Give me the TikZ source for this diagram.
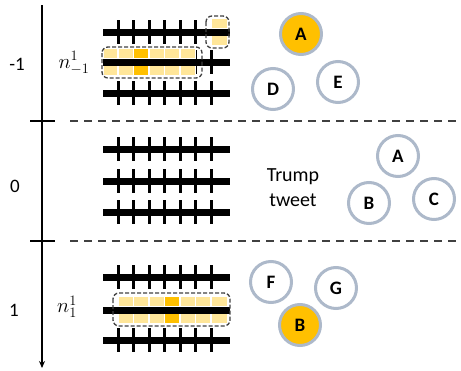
\documentclass[tikz,border=0pt]{standalone}
\usepackage{fontspec}
\setmainfont{Carlito}
\usetikzlibrary{arrows.meta}
\definecolor{cellY}{HTML}{FFE699}
\definecolor{cellO}{HTML}{FFC000}
\definecolor{ringC}{HTML}{ADB9CA}
\definecolor{dashC}{HTML}{404040}
\newcommand{\tlticks}[1]{%
  \foreach \tx in {118,133.5,149,164.5,180,195.5,211}{\draw[tickmark] (\tx,#1-12) -- (\tx,#1+12);}}
\newcommand{\tlbar}[1]{\draw[barline] (103,#1) -- (230,#1);}
\newcommand{\tlcell}[4]{% x1, x2, ybar, style
  \draw[#4] (#1,#3-13.5) rectangle (#2,#3-3);
  \draw[#4] (#1,#3+3) rectangle (#2,#3+13.5);}
\begin{document}
\begin{tikzpicture}[x=1pt,y=-1pt,
  user/.style={circle, draw=ringC, line width=3pt, minimum size=41pt, inner sep=0pt, fill=white,
    font=\bfseries\fontsize{19}{21}\selectfont},
  active/.style={user, fill=cellO},
  barline/.style={line width=7pt},
  tickmark/.style={line width=3pt},
  cell/.style={draw=white, line width=1.4pt, fill=cellY},
  hotcell/.style={cell, fill=cellO},
  groupbox/.style={draw=dashC, dash pattern=on 4pt off 2pt, line width=1.3pt, rounded corners=6pt},
  sep/.style={draw=dashC, dash pattern=on 8pt off 6pt, line width=1.5pt},
  lab/.style={font=\fontsize{19}{22}\selectfont, inner sep=0pt},
  mlab/.style={font=\fontsize{21}{25}\selectfont, inner sep=0pt}]
\useasboundingbox (0,0) rectangle (461,370);

% axis
\coordinate (axtop) at (42,5);
\coordinate (axbot) at (42,368);
\draw[line width=1.5pt, -{Stealth[length=7pt,width=6pt]}] (axtop) -- (axbot);
\coordinate (t1a) at (30,121); \coordinate (t1b) at (55,121);
\coordinate (t2a) at (30,241); \coordinate (t2b) at (55,241);
\draw[line width=1.5pt] (t1a) -- (t1b);
\draw[line width=1.5pt] (t2a) -- (t2b);
\coordinate (s1a) at (70,121); \coordinate (s1b) at (461,121);
\coordinate (s2a) at (70,241); \coordinate (s2b) at (461,241);
\draw[sep] (s1a) -- (s1b);
\draw[sep] (s2a) -- (s2b);

\node[lab] (lm1) at (17,64) {-1};
\node[lab] (l0) at (15,186) {0};
\node[lab] (l1) at (14,310) {1};
\node[mlab] (nm1) at (74,63) {$n^1_{-1}$};
\node[mlab] (n1) at (67,307) {$n^1_1$};

% ticks
\foreach \yy in {32,62,93,149,181,212,277,310,340}{\tlticks{\yy}}
% cells top group
\tlcell{103}{118}{62}{cell}
\tlcell{118}{133.5}{62}{cell}
\tlcell{133.5}{149}{62}{hotcell}
\tlcell{149}{164.5}{62}{cell}
\tlcell{164.5}{180}{62}{cell}
\tlcell{180}{195.5}{62}{cell}
\tlcell{211}{228}{32}{cell}
% cells bottom group
\tlcell{118}{133.5}{310}{cell}
\tlcell{133.5}{149}{310}{cell}
\tlcell{149}{164.5}{310}{cell}
\tlcell{164.5}{180}{310}{hotcell}
\tlcell{180}{195.5}{310}{cell}
\tlcell{195.5}{211}{310}{cell}
\tlcell{211}{228}{310}{cell}
% bars
\foreach \yy in {32,62,93,149,181,212,277,310,340}{\tlbar{\yy}}
% group boxes
\draw[groupbox] (102,47) rectangle (202,78);
\draw[groupbox] (206,16) rectangle (229,48);
\draw[groupbox] (113,293) rectangle (230,326);

% users
\node[active] (A1) at (301,34) {A};
\node[user] (D1) at (273,89) {D};
\node[user] (E1) at (338,82) {E};
\node[align=center, font=\fontsize{20}{25}\selectfont, inner sep=0pt] (tt) at (293,188) {Trump\\tweet};
\node[user] (A0) at (398,156) {A};
\node[user] (B0) at (369,203) {B};
\node[user] (C0) at (434,199) {C};
\node[user] (F2) at (271,282) {F};
\node[user] (G2) at (336,288) {G};
\node[active] (B2) at (300,325) {B};
\end{tikzpicture}
\end{document}
